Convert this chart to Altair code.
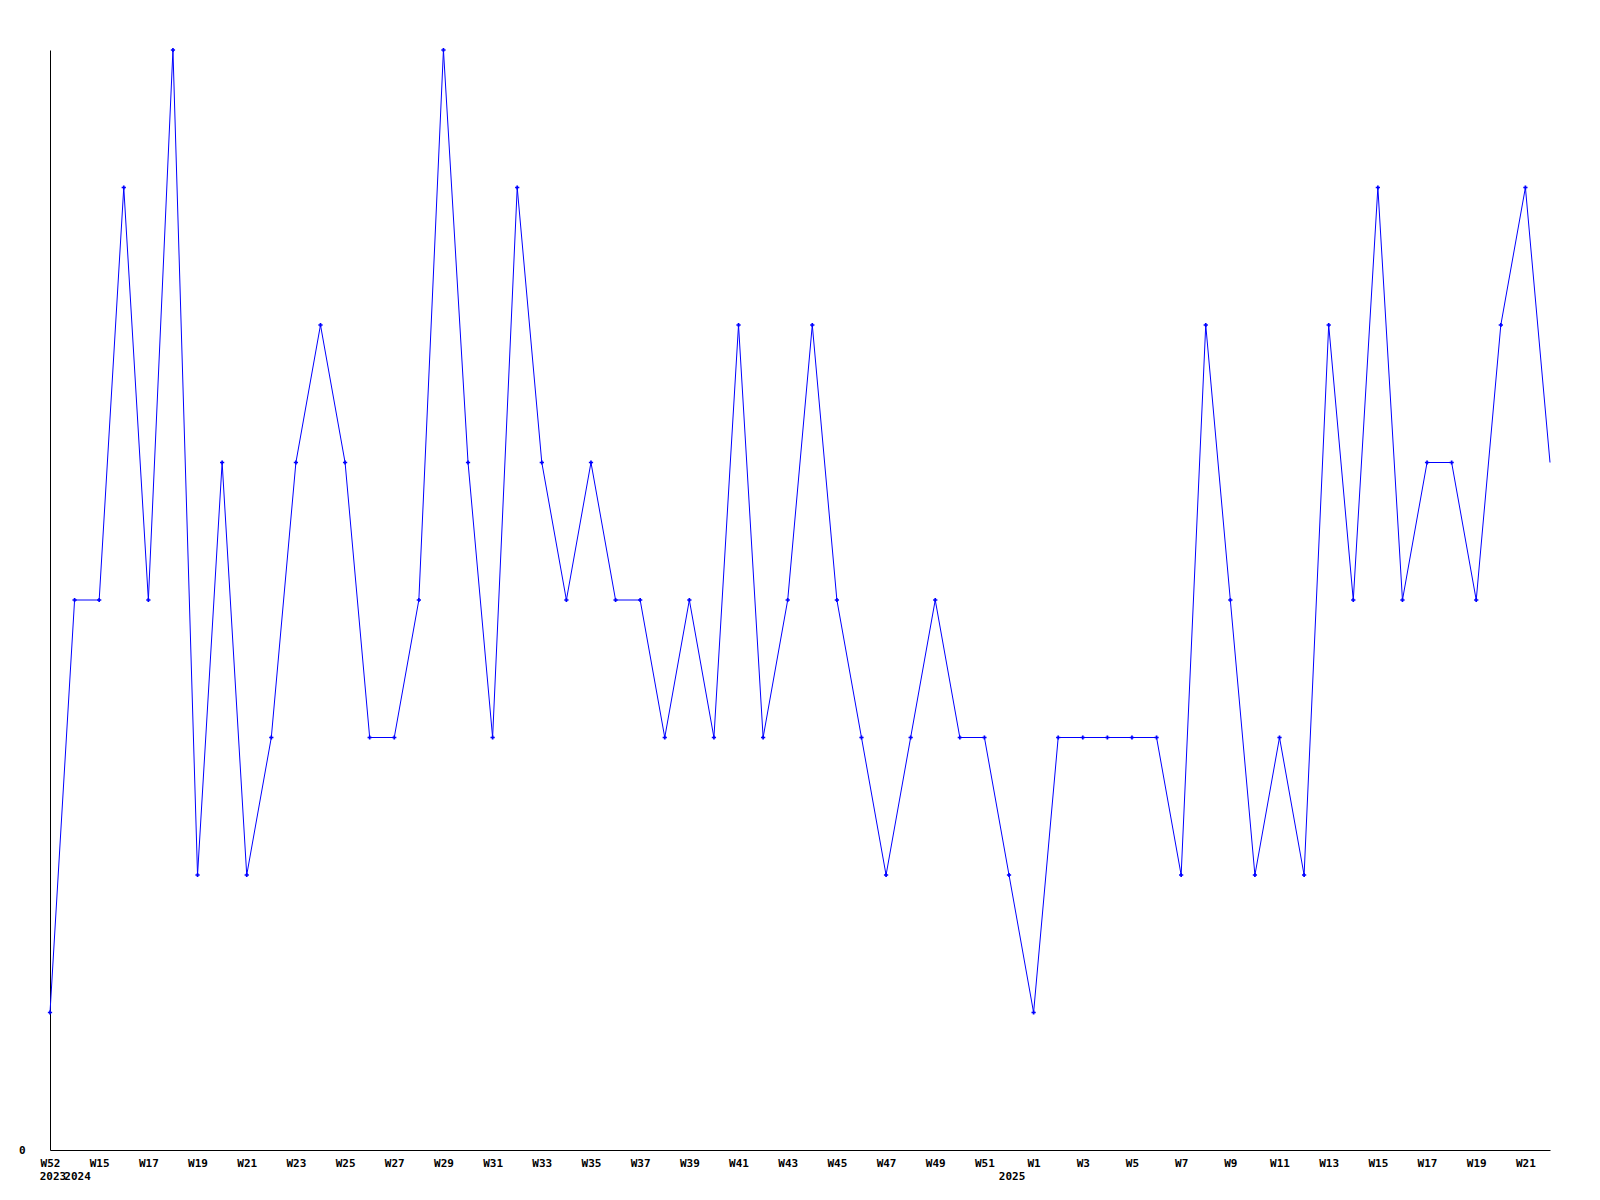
import altair as alt
import pandas as pd

weeks = (["W52"] + [f"W{i}" for i in range(14, 53)] + [f"W{i}" for i in range(1, 23)])
years = [2023] + [2024] * 39 + [2025] * 22
values = [1, 4, 4, 7, 4, 8, 2, 5, 2, 3,
          5, 6, 5, 3, 3, 4, 8, 5, 3, 7,
          5, 4, 5, 4, 4, 3, 4, 3, 6, 3,
          4, 6, 4, 3, 2, 3, 4, 3, 3, 2,
          1, 3, 3, 3, 3, 3, 2, 6, 4, 2,
          3, 2, 6, 4, 7, 4, 5, 5, 4, 6,
          7, 5]

keys = [f"{y}-{w}" for y, w in zip(years, weeks)]
df = pd.DataFrame({"key": keys, "week": weeks, "year": years, "value": values})

year_labels = ["2023", "2024", "2025"]
year_anchor = ["2023-W52", "2024-W14", "2024-W52"]
ydf = pd.DataFrame({"key": year_anchor, "label": year_labels})

FONT = "DejaVu Sans Mono"
shown = keys[::2]

x_enc = alt.X("key:N", sort=keys,
              scale=alt.Scale(type="point", padding=0),
              axis=alt.Axis(values=shown, labelExpr="split(datum.value,'-')[1]",
                            title=None, ticks=False, grid=False, labelAngle=0,
                            labelFont=FONT, labelFontWeight="bold", labelFontSize=11,
                            labelColor="black", labelPadding=7, labelBaseline="top",
                            domainColor="black", domainWidth=1))
y_enc = alt.Y("value:Q", scale=alt.Scale(domain=[0, 8], nice=False, zero=True),
              axis=alt.Axis(values=[0], format="d", title=None, ticks=False, grid=False,
                            labelFont=FONT, labelFontWeight="bold", labelFontSize=11,
                            labelColor="black", labelPadding=25, labelBaseline="middle",
                            domainColor="black", domainWidth=1))

line = alt.Chart(df).mark_line(color="#0000ff", strokeWidth=1).encode(x=x_enc, y=y_enc)
pts = alt.Chart(df).transform_filter(f"datum.key != '{keys[-1]}'").mark_point(
    shape="cross", filled=True, size=18, color="#0000ff", opacity=1).encode(
    x=alt.X("key:N", sort=keys), y="value:Q")
yr = alt.Chart(ydf).mark_text(font=FONT, fontWeight="bold", fontSize=11, color="black",
                              baseline="middle", align="center", dx=3).encode(
    x=alt.X("key:N", sort=keys), y=alt.value(1127), text="label:N")

chart = alt.layer(line, pts, yr).properties(
    width=1500, height=1100,
    autosize=alt.AutoSizeParams(type="none"),
    padding={"left": 42, "top": 42, "right": 42, "bottom": 50},
).configure(background="white", view=alt.ViewConfig(stroke="transparent", strokeWidth=0))

chart.save("out.html", embed_options={"renderer": "svg", "actions": False})
